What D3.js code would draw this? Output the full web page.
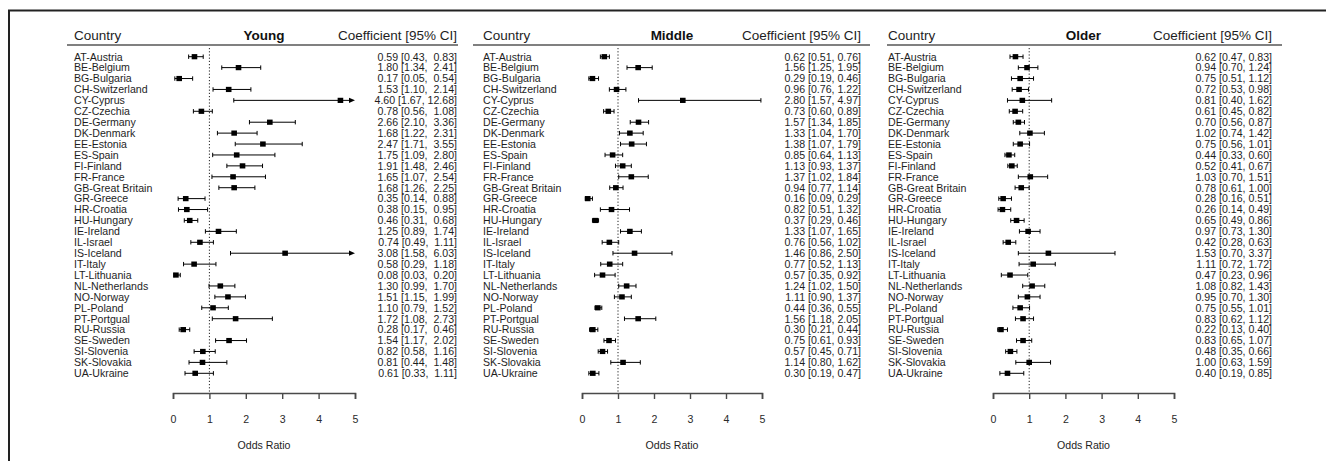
<!DOCTYPE html>
<html>
<head>
<meta charset="utf-8">
<script src="https://cdn.jsdelivr.net/npm/d3@7"></script>
<style>
  html, body { margin: 0; padding: 0; background: #fff; }
  svg { display: block; }
  text { font-family: "Liberation Sans", Arial, sans-serif; }
</style>
</head>
<body>
<div id="chart"></div>
<script>
const countries = ["AT-Austria","BE-Belgium","BG-Bulgaria","CH-Switzerland","CY-Cyprus","CZ-Czechia","DE-Germany","DK-Denmark","EE-Estonia","ES-Spain","FI-Finland","FR-France","GB-Great Britain","GR-Greece","HR-Croatia","HU-Hungary","IE-Ireland","IL-Israel","IS-Iceland","IT-Italy","LT-Lithuania","NL-Netherlands","NO-Norway","PL-Poland","PT-Portgual","RU-Russia","SE-Sweden","SI-Slovenia","SK-Slovakia","UA-Ukraine"];

const youngEst = [0.59,1.80,0.17,1.53,4.60,0.78,2.66,1.68,2.47,1.75,1.91,1.65,1.68,0.35,0.38,0.46,1.25,0.74,3.08,0.58,0.08,1.30,1.51,1.10,1.72,0.28,1.54,0.82,0.81,0.61];
const youngLo  = [0.43,1.34,0.05,1.10,1.67,0.56,2.10,1.22,1.71,1.09,1.48,1.07,1.26,0.14,0.15,0.31,0.89,0.49,1.58,0.29,0.03,0.99,1.15,0.79,1.08,0.17,1.17,0.58,0.44,0.33];
const youngHi  = [0.83,2.41,0.54,2.14,12.68,1.08,3.36,2.31,3.55,2.80,2.46,2.54,2.25,0.88,0.95,0.68,1.74,1.11,6.03,1.18,0.20,1.70,1.99,1.52,2.73,0.46,2.02,1.16,1.48,1.11];

const middleEst = [0.62,1.56,0.29,0.96,2.80,0.73,1.57,1.33,1.38,0.85,1.13,1.37,0.94,0.16,0.82,0.37,1.33,0.76,1.46,0.77,0.57,1.24,1.11,0.44,1.56,0.30,0.75,0.57,1.14,0.30];
const middleLo  = [0.51,1.25,0.19,0.76,1.57,0.60,1.34,1.04,1.07,0.64,0.93,1.02,0.77,0.09,0.51,0.29,1.07,0.56,0.86,0.52,0.35,1.02,0.90,0.36,1.18,0.21,0.61,0.45,0.80,0.19];
const middleHi  = [0.76,1.95,0.46,1.22,4.97,0.89,1.85,1.70,1.79,1.13,1.37,1.84,1.14,0.29,1.32,0.46,1.65,1.02,2.50,1.13,0.92,1.50,1.37,0.55,2.05,0.44,0.93,0.71,1.62,0.47];

const olderEst = [0.62,0.94,0.75,0.72,0.81,0.61,0.70,1.02,0.75,0.44,0.52,1.03,0.78,0.28,0.26,0.65,0.97,0.42,1.53,1.11,0.47,1.08,0.95,0.75,0.83,0.22,0.83,0.48,1.00,0.40];
const olderLo  = [0.47,0.70,0.51,0.53,0.40,0.45,0.56,0.74,0.56,0.33,0.41,0.70,0.61,0.16,0.14,0.49,0.73,0.28,0.70,0.72,0.23,0.82,0.70,0.55,0.62,0.13,0.65,0.35,0.63,0.19];
const olderHi  = [0.83,1.24,1.12,0.98,1.62,0.82,0.87,1.42,1.01,0.60,0.67,1.51,1.00,0.51,0.49,0.86,1.30,0.63,3.37,1.72,0.96,1.43,1.30,1.01,1.12,0.40,1.07,0.66,1.59,0.85];

const groupNames = ["Young","Middle","Older"];
const xTicks = [0,1,2,3,4,5];
const headerCountry = "Country";
const headerCoef = "Coefficient [95% CI]";
const axisTitle = "Odds Ratio";

const W = 1326, H = 461;
const svg = d3.select("#chart").append("svg").attr("width", W).attr("height", H);

// outer frame (top + left)
svg.append("path").attr("d", `M9,${H} V10.5 H${W}`).attr("fill","none").attr("stroke","#222").attr("stroke-width",2);

const layout = [
  {labelX:74,  ulX0:67,  ulX1:458,  ax0:173, ax5:355,  textRight:457},
  {labelX:483, ulX0:473, ulX1:870,  ax0:582, ax5:762,  textRight:861},
  {labelX:888, ulX0:887, ulX1:1282, ax0:993, ax5:1174, textRight:1272}
];
const dataSets = [
  {est:youngEst, lo:youngLo, hi:youngHi},
  {est:middleEst, lo:middleLo, hi:middleHi},
  {est:olderEst, lo:olderLo, hi:olderHi}
];

const y = d3.scalePoint().domain(countries).range([56.7, 373.3]);
const textCol = "#1e1e1e";
const rowFont = 10.6;

groupNames.forEach((name, gi) => {
  const L = layout[gi], D = dataSets[gi];
  const g = svg.append("g");
  const x = d3.scaleLinear().domain([0,5]).range([L.ax0, L.ax5]);

  // headers
  g.append("text").attr("x", L.labelX).attr("y", 40).attr("font-size", 13.5).attr("fill", textCol).text(headerCountry);
  g.append("text").attr("x", (L.ax0+L.ax5)/2).attr("y", 40).attr("font-size", 13.5).attr("font-weight","bold")
    .attr("text-anchor","middle").attr("fill", "#111").text(name);
  g.append("text").attr("x", L.textRight).attr("y", 40).attr("font-size", 13.5).attr("text-anchor","end").attr("fill", textCol).text(headerCoef);
  g.append("line").attr("x1", L.ulX0).attr("x2", L.ulX1).attr("y1", 45).attr("y2", 45).attr("stroke","#808080").attr("stroke-width",2);

  // reference line at 1
  g.append("line").attr("x1", x(1)).attr("x2", x(1)).attr("y1", 48).attr("y2", 393)
    .attr("stroke","#222").attr("stroke-width",1).attr("stroke-dasharray","1.2,2");

  // country labels
  g.selectAll("text.lab").data(countries).enter().append("text").attr("class","lab")
    .attr("x", L.labelX).attr("y", d => y(d) + 3.8).attr("font-size", rowFont).attr("fill", textCol).text(d => d);

  // coefficient text
  const f = v => v.toFixed(2);
  const wE = d3.max(D.est, v => f(v).length), wL = d3.max(D.lo, v => f(v).length), wH = d3.max(D.hi, v => f(v).length);
  g.selectAll("text.coef").data(countries).enter().append("text").attr("class","coef")
    .attr("x", L.textRight).attr("y", d => y(d) + 3.8).attr("font-size", rowFont).attr("text-anchor","end")
    .attr("fill", textCol).attr("xml:space","preserve").style("white-space","pre")
    .text((d,i) => `${f(D.est[i]).padStart(wE)} [${f(D.lo[i]).padStart(wL)}, ${f(D.hi[i]).padStart(wH)}]`);

  // CI lines
  const rows = countries.map((c,i) => ({c, est:D.est[i], lo:D.lo[i], hi:D.hi[i]}));
  const xmax = 5;
  const rg = g.selectAll("g.row").data(rows).enter().append("g").attr("class","row");
  rg.append("line").attr("x1", d => x(d.lo)).attr("x2", d => x(Math.min(d.hi, xmax)) - (d.hi > xmax ? 4 : 0))
    .attr("y1", d => y(d.c)).attr("y2", d => y(d.c)).attr("stroke","#000").attr("stroke-width",1);
  const cap = 2.2;
  rg.append("line").attr("x1", d => x(d.lo)).attr("x2", d => x(d.lo))
    .attr("y1", d => y(d.c)-cap).attr("y2", d => y(d.c)+cap).attr("stroke","#000").attr("stroke-width",1);
  rg.filter(d => d.hi <= xmax).append("line").attr("x1", d => x(d.hi)).attr("x2", d => x(d.hi))
    .attr("y1", d => y(d.c)-cap).attr("y2", d => y(d.c)+cap).attr("stroke","#000").attr("stroke-width",1);
  rg.filter(d => d.hi > xmax).append("path")
    .attr("d", d => { const xe = x(xmax), yc = y(d.c); return `M${xe},${yc} L${xe-6},${yc-2.6} L${xe-6},${yc+2.6} Z`; })
    .attr("fill","#000");
  const bs = 5.6;
  rg.append("rect").attr("x", d => x(d.est) - bs/2).attr("y", d => y(d.c) - bs/2 + 0.2)
    .attr("width", bs).attr("height", bs - 0.4).attr("fill","#000");

  // axis
  const axis = d3.axisBottom(x).tickValues(xTicks).tickSize(6).tickPadding(16).tickFormat(d3.format("d"));
  const ag = g.append("g").attr("transform", "translate(0,393)").call(axis);
  ag.select(".domain").attr("stroke","#4a4a4a").attr("stroke-width",1.6);
  ag.selectAll(".tick line").attr("stroke","#4a4a4a").attr("stroke-width",1.4);
  ag.selectAll(".tick text").attr("font-size", 10.6).attr("fill","#2a2a2a").attr("font-family","Liberation Sans, Arial, sans-serif");

  g.append("text").attr("x", (L.ax0+L.ax5)/2).attr("y", 449).attr("font-size", 10.6).attr("text-anchor","middle")
    .attr("fill", textCol).text(axisTitle);
});
</script>
</body>
</html>
